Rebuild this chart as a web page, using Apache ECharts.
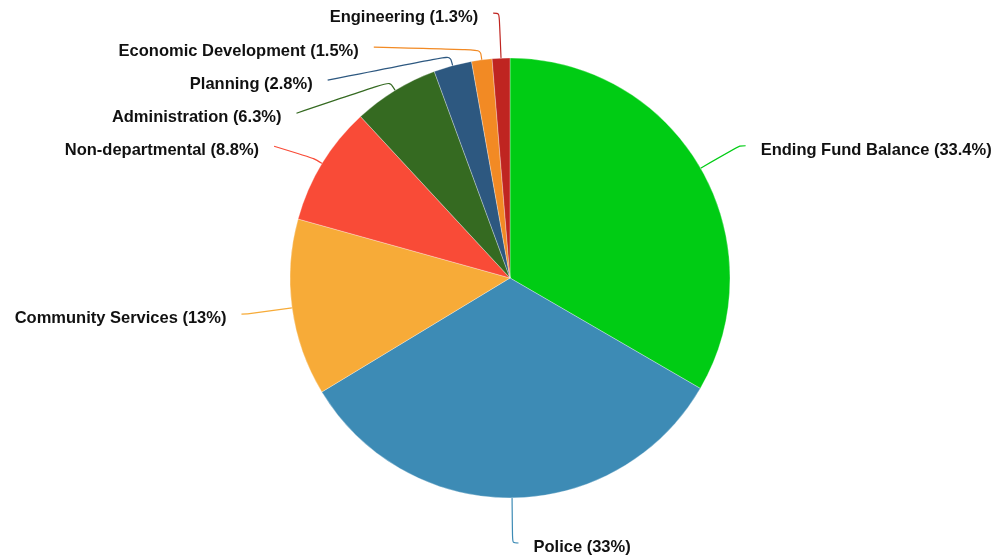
<!DOCTYPE html>
<html>
<head>
<meta charset="utf-8">
<script src="https://cdn.jsdelivr.net/npm/echarts@6/dist/echarts.min.js"></script>
<style>html,body{margin:0;padding:0;background:#fff}#c{width:998px;height:559px}</style>
</head>
<body>
<div id="c"></div>
<script>
const categories = ["Ending Fund Balance","Police","Community Services","Non-departmental","Administration","Planning","Economic Development","Engineering"];
const shares = [33.4, 33, 13, 8.8, 6.3, 2.8, 1.5, 1.3];
const colors = ["#00cc14","#3d8bb5","#f7ab38","#f94b37","#356a21","#2d5880","#f28a24","#bf2521"];

const CX = 510, CY = 278, R = 220, LEN = 45, LEN2 = 6, GAP = 15, STACK_LIFT = 2.3;
const chart = echarts.init(document.getElementById('c'));
const data = categories.map((n,i)=>({name:n, value:shares[i], itemStyle:{color:colors[i]}, labelLine:{lineStyle:{color:colors[i]}}}));
chart.setOption({
  animation:false,
  series:[{
    type:'pie',
    center:[CX, CY],
    radius:[0,R],
    startAngle:90,
    clockwise:true,
    avoidLabelOverlap:true,
    itemStyle:{borderColor:'rgba(255,255,255,0.6)', borderWidth:0.5},
    label:{
      show:true,
      formatter: p => p.name + ' (' + p.value + '%)',
      fontFamily:'Liberation Sans, Arial, sans-serif',
      fontWeight:'bold',
      fontSize:16.5,
      lineHeight:31,
      color:'#111',
      overflow:'none',
      bleedMargin:0,
      distanceToLabelLine:GAP
    },
    labelLine:{show:true, length:LEN, length2:LEN2, smooth:0.3, lineStyle:{width:1.2}},
    labelLayout: function (p) {
      const pts = p.labelLinePoints;
      if (!pts) return {};
      const e = pts[0];
      const ux = (e[0]-CX)/R, uy = (e[1]-CY)/R;
      const dir = ux < 0 ? -1 : 1;
      const nat = [CX + (R+LEN)*ux, CY + (R+LEN)*uy];
      let endY = pts[2][1];
      if (endY < CY && Math.abs(nat[1] - endY) > 1.2) endY -= STACK_LIFT;
      const shifted = Math.abs(nat[1] - endY) > 2;
      let endX, mid;
      if (shifted) {
        const dy = Math.abs(endY - CY);
        endX = CX + dir*(Math.sqrt(Math.max(0,(R+LEN)*(R+LEN) - dy*dy)) + LEN2);
        mid = [e[0] + ux*10, e[1] + uy*10];
      } else {
        endY = nat[1];
        endX = nat[0] + dir*LEN2;
        mid = nat;
      }
      return {
        x: endX + dir*GAP,
        y: endY + 4.5,
        align: dir < 0 ? 'right' : 'left',
        verticalAlign: 'middle',
        labelLinePoints:[e, mid, [endX, endY]]
      };
    },
    emphasis:{disabled:true},
    data:data
  }]
});
</script>
</body>
</html>
